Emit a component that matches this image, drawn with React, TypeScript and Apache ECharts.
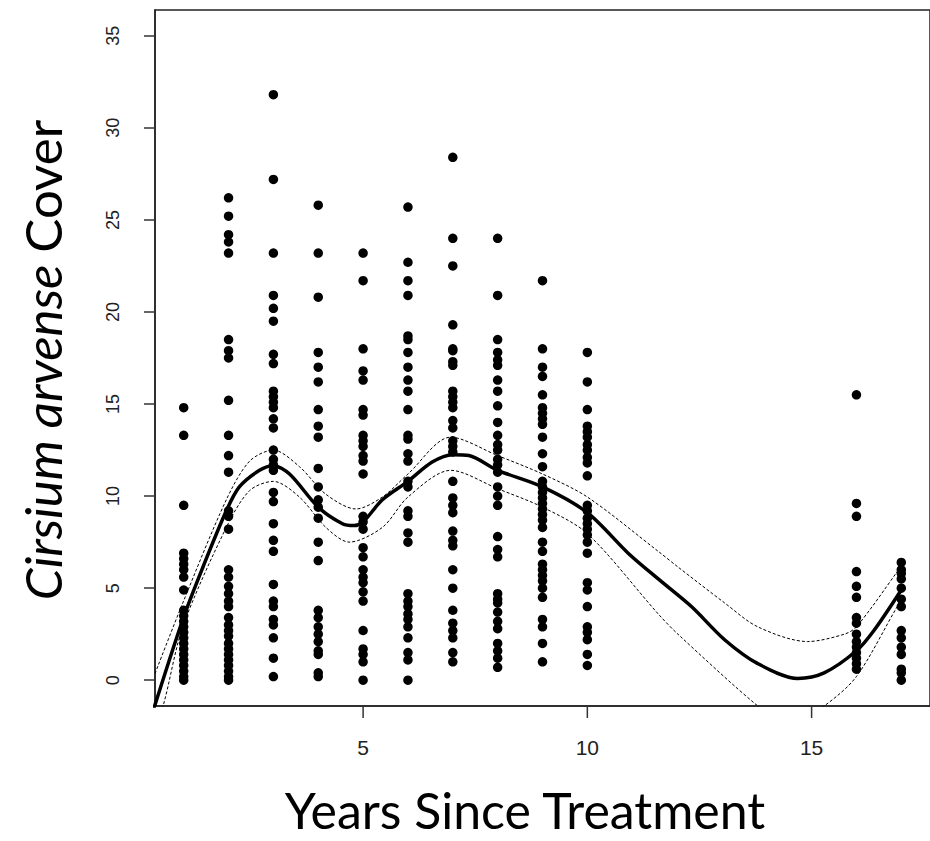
import React, { useEffect, useRef } from "react";
import * as echarts from "echarts";

const years = [1, 2, 3, 4, 5, 6, 7, 8, 9, 10, 16, 17];

const cover1 = [14.8, 13.3, 9.5, 6.9, 6.6, 6.3, 6.0, 5.6, 4.9, 3.8, 3.5, 3.2, 2.9, 2.6, 2.3, 2.0, 1.7, 1.4, 1.1, 0.8, 0.5, 0.2, 0.0];
const cover2 = [26.2, 25.2, 24.2, 23.8, 23.2, 18.5, 17.9, 17.5, 15.2, 13.3, 12.2, 11.3, 9.2, 8.9, 8.2, 6.0, 5.6, 5.1, 4.7, 4.3, 4.0, 3.4, 3.0, 2.7, 2.4, 2.0, 1.7, 1.4, 1.1, 0.8, 0.5, 0.2, 0.0];
const cover3 = [31.8, 27.2, 23.2, 20.9, 20.2, 19.5, 17.7, 17.2, 15.7, 15.4, 15.1, 14.8, 14.2, 13.7, 12.5, 12.0, 11.7, 11.4, 10.2, 9.7, 8.5, 7.6, 7.0, 5.2, 4.3, 4.0, 3.3, 3.0, 2.3, 1.2, 0.2];
const cover4 = [25.8, 23.2, 20.8, 17.8, 17.0, 16.2, 14.7, 13.8, 13.2, 11.5, 10.5, 9.8, 9.4, 8.8, 7.5, 6.5, 3.8, 3.4, 2.9, 2.5, 2.1, 1.6, 1.4, 0.4, 0.2];
const cover5 = [23.2, 21.7, 18.0, 16.8, 16.3, 14.7, 14.4, 13.3, 13.0, 12.7, 12.2, 11.9, 11.2, 8.9, 8.6, 8.2, 7.2, 6.7, 6.0, 5.6, 5.3, 4.8, 4.3, 2.7, 1.7, 1.4, 1.0, 0.0];
const cover6 = [25.7, 22.7, 21.7, 20.9, 18.7, 18.5, 17.8, 17.0, 16.3, 15.7, 14.7, 13.3, 13.1, 12.3, 11.9, 10.8, 10.5, 9.2, 8.9, 8.0, 7.5, 4.7, 4.3, 4.0, 3.6, 3.3, 2.9, 2.3, 1.5, 1.1, 0.0];
const cover7 = [28.4, 24.0, 22.5, 19.3, 18.0, 17.9, 17.3, 17.1, 15.7, 15.4, 15.1, 14.8, 14.1, 13.7, 13.0, 12.7, 12.4, 10.8, 9.9, 9.5, 9.1, 8.1, 7.6, 7.3, 6.0, 5.0, 3.8, 3.1, 2.7, 2.3, 1.5, 1.0];
const cover8 = [24.0, 20.9, 18.5, 17.8, 17.4, 17.1, 16.3, 15.7, 14.9, 14.0, 13.3, 12.8, 12.5, 12.0, 11.7, 11.3, 10.5, 10.0, 9.5, 7.8, 7.1, 6.7, 4.7, 4.4, 4.2, 3.7, 3.2, 2.8, 2.0, 1.6, 1.2, 0.7];
const cover9 = [21.7, 18.0, 17.0, 16.5, 15.5, 14.8, 14.5, 14.2, 13.9, 13.2, 12.3, 11.6, 10.8, 10.5, 10.2, 9.9, 9.6, 9.3, 9.0, 8.7, 8.3, 7.5, 7.0, 6.3, 6.0, 5.7, 5.4, 5.0, 4.5, 3.3, 2.9, 2.0, 1.0];
const cover10 = [17.8, 16.2, 14.7, 13.8, 13.5, 13.2, 12.8, 12.5, 12.1, 11.8, 11.1, 9.5, 9.2, 8.8, 8.5, 8.2, 7.9, 7.5, 6.9, 5.3, 4.9, 4.0, 2.9, 2.6, 2.2, 1.4, 0.8];
const cover16 = [15.5, 9.6, 8.9, 5.9, 5.1, 4.5, 3.4, 3.1, 2.5, 2.1, 1.8, 1.5, 1.2, 0.9, 0.6];
const cover17 = [6.4, 6.0, 5.8, 5.5, 5.0, 4.4, 4.0, 2.7, 2.3, 1.8, 1.4, 0.6, 0.4, 0.0];

const coverByYear = [cover1, cover2, cover3, cover4, cover5, cover6, cover7, cover8, cover9, cover10, cover16, cover17];

// fitted smooth and its confidence band: [year, cover]
const fitLine = [
  [0.3, -1.8], [0.98, 3.3], [1.43, 6.15], [1.95, 9.2], [2.24, 10.5], [2.69, 11.4], [3.0, 11.65],
  [3.36, 11.2], [4.0, 9.4], [4.54, 8.5], [4.8, 8.4], [5.0, 8.6], [5.43, 9.8], [6.0, 10.8],
  [6.54, 11.85], [7.0, 12.25], [7.36, 12.2], [8.0, 11.4], [9.0, 10.5], [10.0, 9.1], [10.91, 6.9],
  [11.58, 5.5], [12.32, 4.0], [13.06, 2.2], [13.8, 0.9], [14.69, 0.1], [15.28, 0.4], [16.0, 1.6],
  [16.39, 2.7], [17.0, 4.9],
];
const upperBand = [
  [0.36, 0.36], [0.98, 4.2], [1.95, 9.8], [2.47, 11.9], [3.0, 12.5], [3.58, 11.6], [4.17, 10.1],
  [4.84, 9.3], [5.43, 9.95], [6.0, 11.2], [6.95, 13.2], [8.0, 12.2], [9.0, 11.2], [10.0, 9.95],
  [11.58, 7.0], [12.02, 6.15], [13.06, 4.2], [13.8, 2.9], [14.91, 2.1], [15.73, 2.5], [16.0, 2.9],
  [16.91, 5.9], [17.0, 6.3],
];
const lowerBand = [
  [0.4, -2.0], [0.54, -1.4], [0.98, 2.9], [1.95, 8.3], [2.47, 10.3], [3.0, 10.8], [3.58, 9.95],
  [4.17, 8.3], [4.69, 7.5], [5.43, 8.3], [6.0, 9.95], [6.95, 11.4], [8.0, 10.4], [9.0, 9.4],
  [10.0, 7.96], [11.58, 3.6], [12.02, 2.5], [13.8, -1.4], [14.5, -2.5], [15.28, -1.4], [16.0, 0.2],
  [16.91, 4.0], [17.0, 4.3],
];

const xTicks = [5, 10, 15];
const yTicks = [0, 5, 10, 15, 20, 25, 30, 35];
const X_MIN = 0.36;
const X_MAX = 17.64;
const Y_MIN = -1.4;
const Y_MAX = 36.4;

export default function App() {
  const ref = useRef<HTMLDivElement>(null);
  useEffect(() => {
    if (!ref.current) return;
    const chart = echarts.init(ref.current, null, { renderer: "svg" });
    const points: number[][] = [];
    years.forEach((yr, i) => coverByYear[i].forEach((v) => points.push([yr, v])));
    const axisColor = "#333";
    const titleFont = "Lato, 'Open Sans', sans-serif";
    const titles = [
      {
        type: "text",
        x: 525,
        y: 810,
        style: {
          text: "Years Since Treatment",
          align: "center",
          verticalAlign: "middle",
          fontSize: 50,
          fontFamily: titleFont,
          fill: "#000",
        },
      },
      {
        type: "text",
        x: 42,
        y: 360,
        rotation: Math.PI / 2,
        style: {
          text: "{i|Cirsium arvense }{n|Cover}",
          align: "center",
          verticalAlign: "middle",
          rich: {
            i: { fontSize: 51, fontStyle: "italic", fontFamily: titleFont, fill: "#000" },
            n: { fontSize: 51, fontFamily: titleFont, fill: "#000" },
          },
        },
      },
    ];
    chart.setOption({
      animation: false,
      backgroundColor: "#fff",
      grid: {
        left: 155,
        top: 10,
        width: 778,
        height: 696,
        show: true,
        borderColor: "#222",
        borderWidth: 1.5,
        backgroundColor: "transparent",
      },
      xAxis: {
        type: "value",
        position: "bottom",
        min: X_MIN,
        max: X_MAX,
        axisLine: { show: true, onZero: false, lineStyle: { color: "#222", width: 1.5 } },
        splitLine: { show: false },
        axisTick: { show: false },
        axisLabel: {
          customValues: xTicks,
          margin: 31,
          fontSize: 21,
          color: "#222",
          fontFamily: "Liberation Sans, Arial, sans-serif",
        },
      },
      yAxis: {
        type: "value",
        position: "left",
        min: Y_MIN,
        max: Y_MAX,
        axisLine: { show: true, onZero: false, lineStyle: { color: "#222", width: 1.5 } },
        splitLine: { show: false },
        axisTick: {
          show: true,
          inside: false,
          customValues: yTicks,
          length: 11,
          lineStyle: { color: axisColor, width: 1.5 },
        },
        axisLabel: {
          customValues: yTicks,
          rotate: 90,
          margin: 33,
          fontSize: 18,
          color: "#222",
          fontFamily: "Liberation Sans, Arial, sans-serif",
        },
      },
      graphic: titles,
      series: [
        {
          type: "scatter",
          data: points,
          symbol: "circle",
          symbolSize: 9.5,
          itemStyle: { color: "#000", opacity: 1 },
          z: 2,
        },
        {
          type: "line",
          data: fitLine,
          smooth: 0.3,
          showSymbol: false,
          clip: true,
          lineStyle: { color: "#000", width: 3.5 },
          z: 3,
        },
        {
          type: "line",
          data: upperBand,
          smooth: 0.3,
          showSymbol: false,
          clip: true,
          lineStyle: { color: "#000", width: 1, type: [3, 2] },
          z: 3,
        },
        {
          type: "line",
          data: lowerBand,
          smooth: 0.3,
          showSymbol: false,
          clip: true,
          lineStyle: { color: "#000", width: 1, type: [3, 2] },
          z: 3,
        },
      ],
    });
    // x-axis tick marks below the frame, placed through the axis scale
    const tickLines = xTicks.map((v) => {
      const p = chart.convertToPixel({ xAxisIndex: 0, yAxisIndex: 0 }, [v, Y_MIN]) as number[];
      return {
        type: "line",
        silent: true,
        shape: { x1: p[0], y1: p[1], x2: p[0], y2: p[1] + 12 },
        style: { stroke: axisColor, lineWidth: 1.5 },
        z: 10,
      };
    });
    chart.setOption({ graphic: [...titles, ...tickLines] });
    return () => chart.dispose();
  }, []);
  return (
    <div
      ref={ref}
      style={{ position: "absolute", left: 0, top: 0, width: 930, height: 841, background: "#fff" }}
    />
  );
}
